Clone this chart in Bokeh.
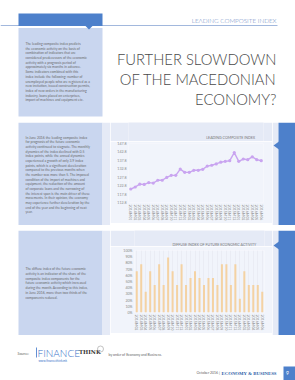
from bokeh.plotting import figure
from bokeh.layouts import column, row
from bokeh.models import Range1d, FactorRange, FixedTicker, PrintfTickFormatter, ColumnDataSource
from bokeh.core.properties import value
from bokeh.embed import file_html
from bokeh.resources import INLINE

# ---------------- data ----------------
lci_months = ["2014M01", "2014M02", "2014M03", "2014M04", "2014M05", "2014M06",
              "2014M07", "2014M08", "2014M09", "2014M10", "2014M11", "2014M12",
              "2015M01", "2015M02", "2015M03", "2015M04", "2015M05", "2015M06",
              "2015M07", "2015M08", "2015M09", "2015M10", "2015M11", "2015M12",
              "2016M01", "2016M02", "2016M03", "2016M04", "2016M05", "2016M06"]
lci_values = [120.8, 122.0, 123.7, 123.5, 124.6, 124.3, 126.0, 126.0, 127.7, 128.9,
              128.9, 132.6, 130.7, 130.7, 131.9, 131.9, 132.5, 134.4, 134.9, 135.7,
              136.7, 137.2, 137.6, 142.4, 137.2, 138.6, 138.2, 139.9, 138.2, 137.6]
lci_ticks = [112.8, 117.8, 122.8, 127.8, 132.8, 137.8, 142.8, 147.8]

di_months = lci_months[1:]
di_values = [66.7, 77.8, 33.3, 66.7, 44.4, 77.8, 44.4, 88.9, 66.7, 44.4,
             77.8, 44.4, 55.6, 66.7, 55.6, 44.4, 55.6, 55.6, 44.4, 77.8,
             77.8, 44.4, 77.8, 22.2, 66.7, 44.4, 44.4, 44.4, 33.3]
di_ticks = [0, 10, 20, 30, 40, 50, 60, 70, 80, 90, 100]

title_lines = ["FURTHER SLOWDOWN", "OF THE MACEDONIAN", "ECONOMY?"]
intro_lines = ["The leading composite index predicts",
               "the economic activity on the basis of",
               "combination of indicators that are",
               "considered predecessors of the economic",
               "activity with a prognosis period of",
               "approximately six months in advance.",
               "Some indicators combined with this",
               "index include the following: number of",
               "unemployed people who are registered as a",
               "new invitation, issued construction permits,",
               "index of new orders in the manufacturing",
               "industry, loans placed on enterprises,",
               "import of machines and equipment etc."]
lci_lines = ["In June 2016 the leading composite index",
             "for prognosis of the future economic",
             "activity continued to stagnate. The monthly",
             "dynamics of the index declined with 0.5",
             "index points, while the annual dynamics",
             "experienced a growth of only 3.9 index",
             "points, which is a significant deceleration",
             "compared to the previous months when",
             "the number was more than 5. The imposed",
             "condition of the import of machines and",
             "equipment, the reduction of the amount",
             "of corporate loans and the narrowing of",
             "the interest span is the main driver of these",
             "movements. In their opinion, the economy",
             "may experience further deceleration by the",
             "end of the year and the beginning of next",
             "year."]
di_lines = ["The diffuse index of the future economic",
            "activity is an indicator of the share of the",
            "composite index components for the",
            "future economic activity which increased",
            "during the month. According to this index,",
            "in June 2016, more than two thirds of the",
            "components reduced."]

# ---------------- styles ----------------
BLUE = "#4d80cb"
PANEL = "#c9d6ef"
BAND = "#e5eaf6"
INNER = "#f1f4fb"
TXT = "#6a6a6a"
FONT = value("Lato")


def deco(x0, x1, y0, y1, bg="#ffffff"):
    f = figure(width=int(round(x1 - x0)), height=int(round(y1 - y0)),
               x_range=Range1d(x0, x1), y_range=Range1d(y1, y0),
               toolbar_location=None, output_backend="svg",
               x_axis_location=None, y_axis_location=None,
               min_border=0, outline_line_color=None,
               background_fill_color=bg, border_fill_color=bg)
    f.grid.visible = False
    return f


def para(f, lines, x, y0, step, size="3.4px"):
    f.text(x=[x] * len(lines), y=[y0 + i * step for i in range(len(lines))], text=lines,
           text_font=FONT, text_font_size=size, text_color=TXT,
           text_align="left", text_baseline="middle")


# ---------------- top ----------------
top = deco(0, 295, 0, 122)
top.segment(x0=[0], y0=[25], x1=[277], y1=[25], line_color="#8aa6d4", line_width=0.8)
top.text(x=[276], y=[20], text=["LEADING COMPOSITE INDEX"], text_font=value("Lato Light"),
         text_font_size="6.3px", text_color="#5f84c0", text_align="right", text_baseline="middle")
top.quad(left=[18], right=[102], top=[13], bottom=[25.5], fill_color=BLUE, line_color=None)
top.quad(left=[18], right=[102], top=[27.5], bottom=[116], fill_color=PANEL, line_color=None)
top.patch(x=[85, 92, 88.5], y=[25.5, 25.5, 29], fill_color=BLUE, line_color=None)
para(top, intro_lines, 25, 43.3, 4.72)
top.text(x=[276] * 3, y=[58, 78, 98], text=title_lines, text_font=value("Lato Light"),
         text_font_size="14.8px", text_color="#4a4a4a", text_align="right", text_baseline="middle")

# ---------------- band 2 : leading composite index ----------------
L2 = deco(0, 110, 122, 225)
L2.quad(left=[18], right=[102], top=[122], bottom=[225], fill_color=PANEL, line_color=None)
L2.quad(left=[102], right=[110], top=[122], bottom=[225], fill_color=BAND, line_color=None)
para(L2, lci_lines, 25, 137.3, 4.65)

T2 = deco(110, 272, 122, 141, BAND)
T2.text(x=[262], y=[137], text=["LEADING COMPOSITE INDEX"], text_font=FONT,
        text_font_size="3.6px", text_color="#777777", text_align="right", text_baseline="middle")
B2 = deco(110, 272, 223, 225, BAND)
R2 = deco(272, 295, 122, 225)
R2.quad(left=[272], right=[278], top=[122], bottom=[225], fill_color=BAND, line_color=None)
R2.quad(left=[278], right=[295], top=[122], bottom=[225], fill_color=BLUE, line_color=None)
R2.patch(x=[278.5, 278.5, 273], y=[141, 149, 145], fill_color=BLUE, line_color=None)

src1 = ColumnDataSource(dict(m=lci_months, v=lci_values))
c1 = figure(width=162, height=82, x_range=FactorRange(factors=lci_months),
            y_range=Range1d(112.8, 147.8), toolbar_location=None, output_backend="svg",
            min_border_left=18, min_border_right=9, min_border_top=2, min_border_bottom=20,
            background_fill_color=INNER, border_fill_color=INNER, outline_line_color=None)
c1.line("m", "v", source=src1, line_color="#c9a4f0", line_width=1.4)
c1.scatter("m", "v", source=src1, size=3.2, fill_color="#c9a4f0", line_color=None)
c1.yaxis.ticker = FixedTicker(ticks=lci_ticks)
c1.yaxis.formatter = PrintfTickFormatter(format="%.1f")
c1.xaxis.major_label_orientation = "vertical"
c1.grid.visible = False

# ---------------- band 3 : diffuse index ----------------
L3 = deco(0, 110, 230, 335)
L3.quad(left=[18], right=[102], top=[230], bottom=[335], fill_color=PANEL, line_color=None)
L3.quad(left=[102], right=[110], top=[230], bottom=[335], fill_color=BAND, line_color=None)
para(L3, di_lines, 25, 268.5, 4.8)

T3 = deco(110, 272, 230, 246, BAND)
T3.text(x=[262], y=[243.5], text=["DIFFUSE INDEX OF FUTURE ECONOMIC ACTIVITY"], text_font=FONT,
        text_font_size="3.6px", text_color="#777777", text_align="right", text_baseline="middle")
B3 = deco(110, 272, 333, 335, BAND)
R3 = deco(272, 295, 230, 335)
R3.quad(left=[272], right=[278], top=[230], bottom=[335], fill_color=BAND, line_color=None)
R3.quad(left=[278], right=[295], top=[230], bottom=[335], fill_color=BLUE, line_color=None)
R3.patch(x=[278.5, 278.5, 273], y=[241, 249, 245], fill_color=BLUE, line_color=None)

src2 = ColumnDataSource(dict(m=di_months, v=di_values))
c2 = figure(width=162, height=87, x_range=FactorRange(factors=di_months),
            y_range=Range1d(0, 100), toolbar_location=None, output_backend="svg",
            min_border_left=24, min_border_right=8, min_border_top=4, min_border_bottom=21,
            background_fill_color=INNER, border_fill_color=INNER, outline_line_color=None)
c2.vbar(x="m", top="v", source=src2, width=0.45, fill_color="#f4d2a3", line_color=None)
c2.yaxis.ticker = FixedTicker(ticks=di_ticks)
c2.yaxis.formatter = PrintfTickFormatter(format="%d%%")
c2.xaxis.major_label_orientation = "vertical"
c2.ygrid.visible = False
c2.xgrid.grid_line_color = "#e2e5ec"
c2.xgrid.grid_line_width = 0.5

for c in (c1, c2):
    for ax in c.axis:
        ax.axis_line_color = None
        ax.major_tick_line_color = None
        ax.minor_tick_line_color = None
        ax.major_tick_out = 0
        ax.major_tick_in = 0
        ax.major_label_standoff = 2
        ax.major_label_text_font_size = "3.6px"
        ax.major_label_text_color = "#8a8a8a"
        ax.major_label_text_font = "Lato"

gap = deco(0, 295, 225, 230)

# ---------------- footer ----------------
foot = deco(0, 295, 335, 380)
foot.text(x=[17], y=[353], text=["Source:"], text_font=FONT, text_font_size="3.5px",
          text_color="#666666", text_align="left", text_baseline="middle")
foot.segment(x0=[36], y0=[347], x1=[36], y1=[357], line_color="#3b74c9", line_width=0.8)
foot.text(x=[37], y=[352.5], text=["FINANCE"], text_font=value("Lato Light"), text_font_size="10px",
          text_color="#3b74c9", text_align="left", text_baseline="middle")
foot.text(x=[78.5], y=[351.5], text=["THINK"], text_font=value("DejaVu Serif"), text_font_size="5.5px",
          text_font_style="bold", text_color="#333333", text_align="left", text_baseline="middle")
foot.circle(x=[100], y=[348.5], radius=3, fill_color=None, line_color="#9a9a9a", line_width=0.6)
foot.text(x=[38], y=[360], text=["www.financethink.mk"], text_font=FONT, text_font_size="3px",
          text_color="#3b74c9", text_align="left", text_baseline="middle")
foot.text(x=[108], y=[354], text=["by order of Economy and Business."], text_font=FONT,
          text_font_size="3.5px", text_color="#666666", text_align="left", text_baseline="middle")
foot.text(x=[219.5], y=[372.5], text=["October 2016 |"], text_font=FONT, text_font_size="3.5px",
          text_color="#666666", text_align="right", text_baseline="middle")
foot.text(x=[221], y=[372.5], text=["ECONOMY & BUSINESS"], text_font=value("Liberation Serif"),
          text_font_size="4.8px", text_font_style="bold", text_color="#2f5fa8",
          text_align="left", text_baseline="middle")
foot.quad(left=[283], right=[295], top=[366], bottom=[380], fill_color=BLUE, line_color=None)
foot.text(x=[287], y=[372], text=["9"], text_font=FONT, text_font_size="5px",
          text_color="#ffffff", text_align="center", text_baseline="middle")

page = column(
    top,
    row(L2, column(T2, c1, B2), R2),
    gap,
    row(L3, column(T3, c2, B3), R3),
    foot,
)

open("out.html", "w").write(file_html(page, INLINE))
